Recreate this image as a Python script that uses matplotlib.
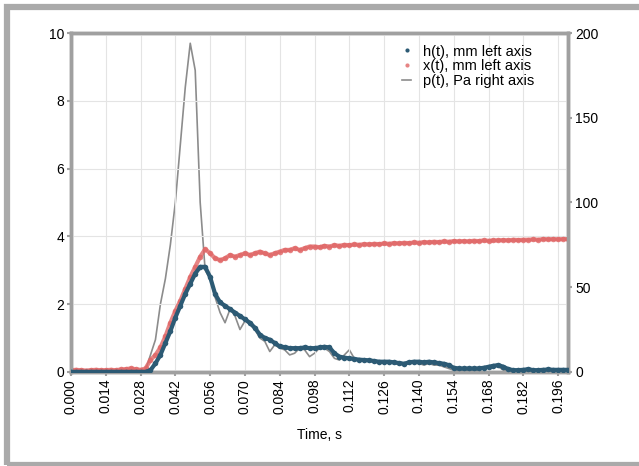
import numpy as np
import matplotlib
matplotlib.use("Agg")
import matplotlib.pyplot as plt
from matplotlib.patches import Rectangle

# time grid, s
t = np.round(np.arange(0, 0.2001, 0.002), 3)

# x(t), mm
x_mm = [0.05, 0.06, 0.05, 0.04, 0.05, 0.06, 0.05, 0.05, 0.06, 0.05, 0.07, 0.08,
        0.10, 0.08, 0.06, 0.10, 0.35, 0.50, 0.72, 1.05, 1.45, 1.80, 2.10, 2.45,
        2.80, 3.10, 3.40, 3.62, 3.50, 3.35, 3.30, 3.35, 3.45, 3.40, 3.45, 3.50,
        3.45, 3.50, 3.55, 3.50, 3.45, 3.50, 3.55, 3.60, 3.60, 3.65, 3.60, 3.65,
        3.70, 3.70, 3.68, 3.72, 3.70, 3.74, 3.72, 3.75, 3.74, 3.76, 3.75, 3.77,
        3.76, 3.78, 3.77, 3.79, 3.78, 3.80, 3.79, 3.81, 3.80, 3.82, 3.81, 3.83,
        3.82, 3.84, 3.83, 3.85, 3.84, 3.86, 3.85, 3.86, 3.85, 3.87, 3.86, 3.88,
        3.87, 3.88, 3.88, 3.89, 3.88, 3.90, 3.89, 3.90, 3.90, 3.91, 3.90, 3.92,
        3.91, 3.92, 3.91, 3.92, 3.92]

# h(t), mm
h_mm = [0.0, 0.0, 0.0, 0.0, 0.0, 0.0, 0.0, 0.0, 0.0, 0.0, 0.0, 0.0,
        0.0, 0.0, 0.0, 0.0, 0.05, 0.25, 0.50, 0.85, 1.20, 1.60, 1.95, 2.30,
        2.60, 2.90, 3.10, 3.10, 2.80, 2.30, 2.05, 1.95, 1.85, 1.75, 1.65, 1.55,
        1.45, 1.30, 1.10, 1.00, 0.95, 0.85, 0.75, 0.73, 0.70, 0.70, 0.70, 0.72,
        0.70, 0.70, 0.72, 0.74, 0.72, 0.55, 0.45, 0.42, 0.40, 0.38, 0.36, 0.35,
        0.34, 0.32, 0.30, 0.30, 0.30, 0.28, 0.26, 0.24, 0.28, 0.30, 0.30, 0.28,
        0.30, 0.28, 0.26, 0.24, 0.20, 0.12, 0.10, 0.10, 0.10, 0.10, 0.10, 0.12,
        0.15, 0.18, 0.20, 0.15, 0.08, 0.05, 0.05, 0.06, 0.08, 0.05, 0.05, 0.06,
        0.07, 0.06, 0.06, 0.06, 0.06]

# p(t), Pa
p_pa = [0.5, 0.5, 0.5, 0.5, 0.5, 0.5, 0.5, 0.5, 0.5, 0.5, 0.5, 0.5,
        0.5, 0.5, 0.5, 1.0, 10, 19, 40, 55, 75, 100, 134, 168,
        194, 178, 100, 60, 55, 44, 35, 29, 37, 33, 25, 30,
        28, 25, 20, 18, 12, 16, 14, 13, 10, 11, 14, 13,
        9, 11, 14, 14, 12, 8, 7, 10, 13, 8, 7, 7,
        6, 7, 5, 6, 5, 6, 4, 5, 6, 5, 5, 4,
        5, 4, 4, 3, 2, 1, 1, 1, 1, 1, 1, 2,
        3, 4, 3, 1, 0.5, 0.5, 0.5, 0.5, 0.5, 0.5, 0.5, 0.5,
        0.5, 0.5, 0.5, 0.5, 0.5]

xticks = np.round(np.arange(0, 0.197, 0.014), 3)

blue = '#2c5a74'
red = '#e06666'
grey = '#8c8c8c'
spine = '#a0a0a0'

plt.rcParams['font.family'] = 'Liberation Sans'

fig = plt.figure(figsize=(6.39, 4.66), dpi=100)
ax1 = fig.add_axes([0.111, 0.202, 0.778, 0.727])
ax2 = ax1.twinx()

ax1.plot(t, x_mm, color=red, lw=3, alpha=0.8, zorder=2)
l1, = ax1.plot(t, x_mm, 'o', color=red, ms=4, alpha=0.8, mec='none', zorder=2,
               label='x(t), mm left axis')
ax1.plot(t, h_mm, color=blue, lw=3, zorder=3)
l0, = ax1.plot(t, h_mm, 'o', color=blue, ms=4, mec='none', zorder=3,
               label='h(t), mm left axis')
l2, = ax2.plot(t, p_pa, color=grey, lw=1.2, label='p(t), Pa right axis')

ax1.set_xlim(0, 0.2)
ax1.set_ylim(0, 10)
ax2.set_ylim(0, 200)
ax1.set_xticks(xticks)
ax1.set_xticklabels(['%.3f' % v for v in xticks], rotation=90)
ax1.set_yticks([0, 2, 4, 6, 8, 10])
ax2.set_yticks([0, 50, 100, 150, 200])
ax1.grid(True, color='#e4e4e4', lw=0.8)
ax1.set_axisbelow(True)
ax1.set_xlabel('Time, s', fontsize=10, labelpad=10)

for ax in (ax1, ax2):
    ax.tick_params(labelsize=10, length=3, width=1.5, color=spine, pad=2)
    for s in ax.spines.values():
        s.set_color(spine)
        s.set_linewidth(2.5)

ax2.set_zorder(ax1.get_zorder() - 1)
ax1.patch.set_visible(False)

leg = ax1.legend(handles=[l0, l1, l2], loc='upper left',
                 bbox_to_anchor=(0.64, 1.005), frameon=False, fontsize=10.5,
                 handlelength=0.6, handletextpad=0.85, labelspacing=0.05,
                 markerscale=0.75)

fig.patches.append(Rectangle((6.5 / 639, 1 - 464.5 / 466), 1.0, 457.5 / 466,
                             transform=fig.transFigure, fill=False,
                             ec='#aaaaaa', lw=4.5, clip_on=False))

fig.savefig('out.png', dpi=100)
